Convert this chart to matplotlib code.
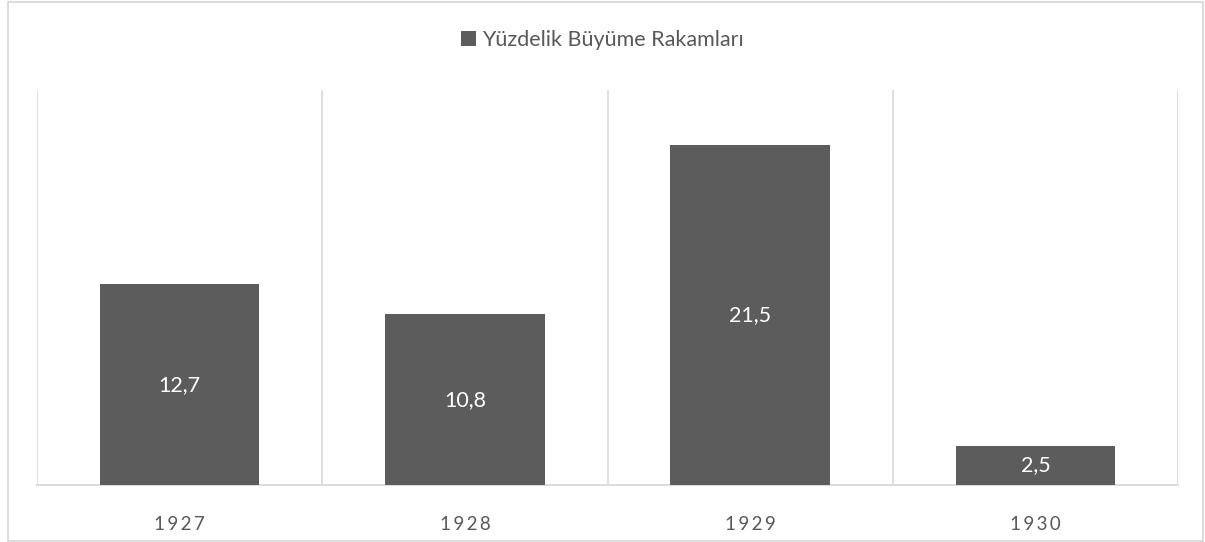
import matplotlib.pyplot as plt
from matplotlib.patches import Rectangle

# veri
years = ["1927", "1928", "1929", "1930"]
growth = [12.7, 10.8, 21.5, 2.5]
series_name = "Yüzdelik Büyüme Rakamları"

bar_color = "#5c5c5c"
grid_color = "#d9d9d9"
text_color = "#595959"

plt.rcParams['font.family'] = ['Lato', 'DejaVu Sans']

fig = plt.figure(figsize=(12.05, 5.42), dpi=100)
W, H = 1205, 542

# dis cerceve
fig.patches.append(Rectangle((8 / W, 1 / H), (1203 - 8) / W, (541 - 2) / H,
                             transform=fig.transFigure, fill=False,
                             edgecolor=grid_color, linewidth=1.3))

ax = fig.add_axes([37 / W, (H - 485) / H, (1178 - 37) / W, (485 - 90) / H])

x = list(range(len(years)))
bars = ax.bar(x, growth, width=0.56, color=bar_color, label=series_name, zorder=3)

# etiketler
for i in range(len(growth)):
    ax.text(x[i], growth[i] / 2, str(growth[i]).replace(".", ","),
            ha='center', va='center', color='white', fontsize=15.5, zorder=4)

ax.set_xlim(-0.5, len(years) - 0.5)
ax.set_ylim(0, 25)
ax.set_xticks(x)
# harf araligi icin ince bosluk
ax.set_xticklabels(["\u2009".join(y) for y in years], color=text_color, fontsize=13.5)
ax.tick_params(axis='x', length=0, pad=22)
ax.set_yticks([])

# kategori sinirlari
ax.set_xticks([i - 0.5 for i in range(len(years) + 1)], minor=True)
ax.tick_params(axis='x', which='minor', length=0)
ax.grid(True, axis='x', which='minor', color=grid_color, linewidth=1.2, zorder=0)

for s in ['top', 'right', 'left']:
    ax.spines[s].set_visible(False)
ax.spines['bottom'].set_color(grid_color)
ax.spines['bottom'].set_linewidth(1.3)

fig.legend(handles=[bars], labels=[series_name], loc='center',
           bbox_to_anchor=(0.5, 1 - 40 / H), frameon=False, fontsize=15.5,
           labelcolor=text_color, handlelength=0.7, handleheight=0.7,
           handletextpad=0.3)

fig.savefig("out.png", dpi=100)
